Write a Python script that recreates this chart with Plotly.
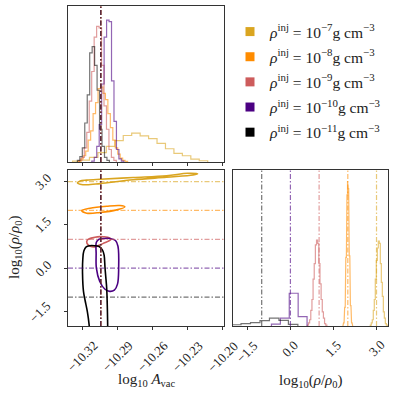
import plotly.graph_objects as go

W, H = 397, 395

# series: injected densities
labels = ["<i>ρ</i><sup>inj</sup> = 10<sup>−7</sup>g cm<sup>−3</sup>",
          "<i>ρ</i><sup>inj</sup> = 10<sup>−8</sup>g cm<sup>−3</sup>",
          "<i>ρ</i><sup>inj</sup> = 10<sup>−9</sup>g cm<sup>−3</sup>",
          "<i>ρ</i><sup>inj</sup> = 10<sup>−10</sup>g cm<sup>−3</sup>",
          "<i>ρ</i><sup>inj</sup> = 10<sup>−11</sup>g cm<sup>−3</sup>"]
colors = ["#DAA520", "#FF8C00", "#CD5C5C", "#4B0082", "#000000"]
faded = ["rgba(218,165,32,0.6)", "rgba(255,140,0,0.6)", "rgba(205,92,92,0.6)",
         "rgba(75,0,130,0.6)", "rgba(0,0,0,0.55)"]

rho_true = [3.0, 2.0, 1.0, 0.0, -1.0]
a_true = -10.304

a_ticks = [-10.32, -10.29, -10.26, -10.23, -10.20]
a_ticktext = ["−10.32", "−10.29", "−10.26", "−10.23", "−10.20"]
rho_ticks = [-1.5, 0.0, 1.5, 3.0]
rho_ticktext = ["−1.5", "0.0", "1.5", "3.0"]

# log10 A_vac histograms (first edge, bin width, heights)
a_start = [-10.3281, -10.3232, -10.3223, -10.3117, -10.3240]
a_width = [0.0072, 0.0021, 0.0021, 0.0021, 0.0021]
a_gold = [0.005, 0.012, 0.03, 0.06, 0.10, 0.137, 0.17, 0.185, 0.168, 0.15, 0.12, 0.085, 0.055, 0.04, 0.018, 0.008]
a_orange = [0.006, 0.02, 0.04, 0.07, 0.14, 0.20, 0.31, 0.38, 0.47, 0.48, 0.44, 0.40, 0.31, 0.22, 0.14, 0.09, 0.05, 0.025, 0.01, 0.004]
a_red = [0.01, 0.03, 0.09, 0.19, 0.39, 0.58, 0.80, 0.87, 0.86, 0.62, 0.36, 0.21, 0.08, 0.03, 0.01]
a_purple = [0.005, 0.03, 0.10, 0.24, 0.50, 0.80, 0.91, 0.90, 0.52, 0.26, 0.08, 0.02, 0.005]
a_black = [0.01, 0.035, 0.09, 0.25, 0.43, 0.70, 0.74, 0.62, 0.46, 0.21, 0.10, 0.03, 0.01]
a_hists = [a_gold, a_orange, a_red, a_purple, a_black]

# log10(rho/rho0) histograms
r_start = [2.7825, 1.83, 0.59, -0.66, -2.05]
r_width = [0.035, 0.02, 0.04, 0.31, 0.33]
r_gold = [0.005, 0.02, 0.04, 0.10, 0.17, 0.30, 0.42, 0.50, 0.545, 0.53, 0.40, 0.28, 0.19, 0.09, 0.05, 0.015, 0.005]
r_orange = [0.005, 0.02, 0.05, 0.12, 0.27, 0.44, 0.70, 0.84, 0.93, 0.88, 0.66, 0.45, 0.25, 0.13, 0.05, 0.02, 0.005]
r_red = [0.005, 0.02, 0.04, 0.10, 0.17, 0.30, 0.40, 0.52, 0.55, 0.53, 0.40, 0.27, 0.17, 0.09, 0.05, 0.015, 0.005]
r_purple = [0.012, 0.05, 0.21, 0.06]
r_black = [0.008, 0.015, 0.022, 0.035, 0.05, 0.036, 0.01]
r_hists = [r_gold, r_orange, r_red, r_purple, r_black]

# 2D contour outlines (log10 A_vac, log10 rho/rho0)
gold_a = [-10.3240, -10.3217, -10.3160, -10.3047, -10.2764, -10.2480, -10.2300, -10.2215, -10.2254, -10.2480, -10.2764, -10.3047, -10.3160, -10.3217, -10.3240]
gold_r = [2.95, 3.02, 3.05, 3.08, 3.14, 3.20, 3.285, 3.265, 3.225, 3.15, 3.06, 2.93, 2.89, 2.91, 2.95]
orange_a = [-10.3203, -10.3132, -10.2990, -10.2877, -10.2835, -10.2905, -10.3047, -10.3160, -10.3203]
orange_r = [1.995, 2.078, 2.146, 2.17, 2.124, 2.02, 1.93, 1.905, 1.995]
red_a = [-10.3155, -10.3090, -10.3047, -10.3019, -10.2965, -10.2954, -10.2980, -10.3019, -10.3090, -10.3130, -10.3158, -10.3155]
red_r = [0.98, 1.07, 1.095, 1.09, 1.05, 1.0, 0.93, 0.86, 0.74, 0.76, 0.86, 0.98]
purple_a = [-10.3078, -10.3055, -10.3010, -10.2965, -10.2915, -10.2894, -10.2888, -10.2898, -10.2925, -10.2965, -10.3007, -10.3050, -10.3078, -10.3080, -10.3078]
purple_r = [0.90, 1.0, 1.03, 1.03, 0.96, 0.76, 0.0, -0.55, -0.76, -0.80, -0.72, -0.45, 0.0, 0.5, 0.90]
black_a = [-10.3135, -10.3140, -10.3155, -10.3175, -10.3188, -10.3196, -10.3194, -10.3185, -10.3165, -10.3135, -10.3095, -10.3055, -10.3025, -10.3012, -10.3005, -10.2998, -10.2990, -10.2985, -10.2982, -10.2981]
black_r = [-2.2, -1.95, -1.5, -1.1, -0.8, -0.2, 0.3, 0.6, 0.74, 0.78, 0.78, 0.75, 0.62, 0.45, 0.05, -0.3, -0.7, -1.3, -1.95, -2.2]
cont_a = [gold_a, orange_a, red_a, purple_a, black_a]
cont_r = [gold_r, orange_r, red_r, purple_r, black_r]


def step(start, width, counts):
    xs, ys = [start], [0]
    for i, c in enumerate(counts):
        xs += [start + i * width, start + (i + 1) * width]
        ys += [c, c]
    xs.append(start + len(counts) * width)
    ys.append(0)
    return xs, ys


def px(x):
    return x / W


def py(y):
    return 1 - y / H


fig = go.Figure()
dash = "5px,2px,1.5px,2px"

for i in range(5):
    xs, ys = step(a_start[i], a_width[i], a_hists[i])
    fig.add_trace(go.Scatter(x=xs, y=ys, mode="lines", line=dict(color=faded[i], width=1.2),
                             xaxis="x", yaxis="y", showlegend=False, hoverinfo="skip"))
    xs, ys = step(r_start[i], r_width[i], r_hists[i])
    fig.add_trace(go.Scatter(x=xs, y=ys, mode="lines", line=dict(color=faded[i], width=1.2),
                             xaxis="x3", yaxis="y3", showlegend=False, hoverinfo="skip"))

# truth lines
for i in range(5):
    fig.add_shape(type="line", xref="x", yref="y domain", x0=a_true, x1=a_true, y0=0, y1=1,
                  line=dict(color=faded[i], width=1.2, dash=dash))
    fig.add_shape(type="line", xref="x2", yref="y2 domain", x0=a_true, x1=a_true, y0=0, y1=1,
                  line=dict(color=faded[i], width=1.2, dash=dash))
    fig.add_shape(type="line", xref="x2 domain", yref="y2", x0=0, x1=1, y0=rho_true[i], y1=rho_true[i],
                  line=dict(color=faded[i], width=1.2, dash=dash))
    fig.add_shape(type="line", xref="x3", yref="y3 domain", x0=rho_true[i], x1=rho_true[i], y0=0, y1=1,
                  line=dict(color=faded[i], width=1.2, dash=dash))

for i in range(5):
    fig.add_trace(go.Scatter(x=cont_a[i], y=cont_r[i], mode="lines",
                             line=dict(color=colors[i], width=1.6, shape="spline", smoothing=1.0),
                             xaxis="x2", yaxis="y2", showlegend=False, hoverinfo="skip"))

for i in range(5):
    fig.add_trace(go.Scatter(x=[None], y=[None], mode="markers", name=labels[i],
                             marker=dict(symbol="square", size=9, color=colors[i]),
                             legendgroup=str(i)))

font = "Liberation Serif"
ax_common = dict(showline=True, linecolor="#333", linewidth=1, mirror=True, showgrid=False,
                 zeroline=False, ticks="outside", ticklen=3, tickcolor="#333")

fig.update_layout(
    width=W, height=H, margin=dict(l=0, r=0, t=0, b=0),
    paper_bgcolor="white", plot_bgcolor="white",
    font=dict(family=font, size=14, color="#222"),
    xaxis=dict(domain=[px(68), px(224)], anchor="y", range=[-10.332, -10.199],
               tickvals=a_ticks, showticklabels=False, **ax_common),
    yaxis=dict(domain=[py(162), py(6)], anchor="x", range=[0, 1],
               showticklabels=False, **{**ax_common, "ticks": ""}),
    xaxis2=dict(domain=[px(68), px(224)], anchor="y2", range=[-10.332, -10.199],
                tickvals=a_ticks, showticklabels=False, **ax_common),
    yaxis2=dict(domain=[py(326), py(170)], anchor="x2", range=[-2.0, 3.4],
                tickvals=rho_ticks, showticklabels=False, **ax_common),
    xaxis3=dict(domain=[px(233), px(388)], anchor="y3", range=[-2.0, 3.4],
                tickvals=rho_ticks, showticklabels=False, **ax_common),
    yaxis3=dict(domain=[py(326), py(170)], anchor="x3", range=[0, 1],
                showticklabels=False, **{**ax_common, "ticks": ""}),
    legend=dict(x=px(230), y=py(15), xanchor="left", yanchor="top",
                font=dict(family=font, size=15.5), tracegroupgap=2, bgcolor="rgba(0,0,0,0)"),
)

tick_font = dict(family=font, size=13, color="#222")
for v, t in zip(a_ticks, a_ticktext):
    fig.add_annotation(x=v, y=py(335), xref="x2", yref="paper", text=t, textangle=-45,
                       showarrow=False, xanchor="center", yanchor="top", font=tick_font)
for v, t in zip(rho_ticks, rho_ticktext):
    fig.add_annotation(x=px(57), y=v, xref="paper", yref="y2", text=t, textangle=-45,
                       showarrow=False, xanchor="right", yanchor="middle", font=tick_font)
    fig.add_annotation(x=v, y=py(335), xref="x3", yref="paper", text=t, textangle=-45,
                       showarrow=False, xanchor="center", yanchor="top", font=tick_font)

title_font = dict(family=font, size=15, color="#222")
fig.add_annotation(x=px(147), y=py(380), xref="paper", yref="paper", showarrow=False,
                   xanchor="center", yanchor="middle",
                   text="log<sub>10</sub> <i>A</i><sub>vac</sub>", font=title_font)
fig.add_annotation(x=px(311), y=py(381), xref="paper", yref="paper", showarrow=False,
                   xanchor="center", yanchor="middle",
                   text="log<sub>10</sub>(<i>ρ</i>/<i>ρ</i><sub>0</sub>)", font=title_font)
fig.add_annotation(x=px(15), y=py(247), xref="paper", yref="paper", showarrow=False, textangle=-90,
                   xanchor="center", yanchor="middle",
                   text="log<sub>10</sub>(<i>ρ</i>/<i>ρ</i><sub>0</sub>)", font=title_font)

# drop the page's default body margin so the figure sits at the window's corner
fig.write_html("out.html", config={"displayModeBar": False},
               post_script="document.body.style.margin = '0';")
